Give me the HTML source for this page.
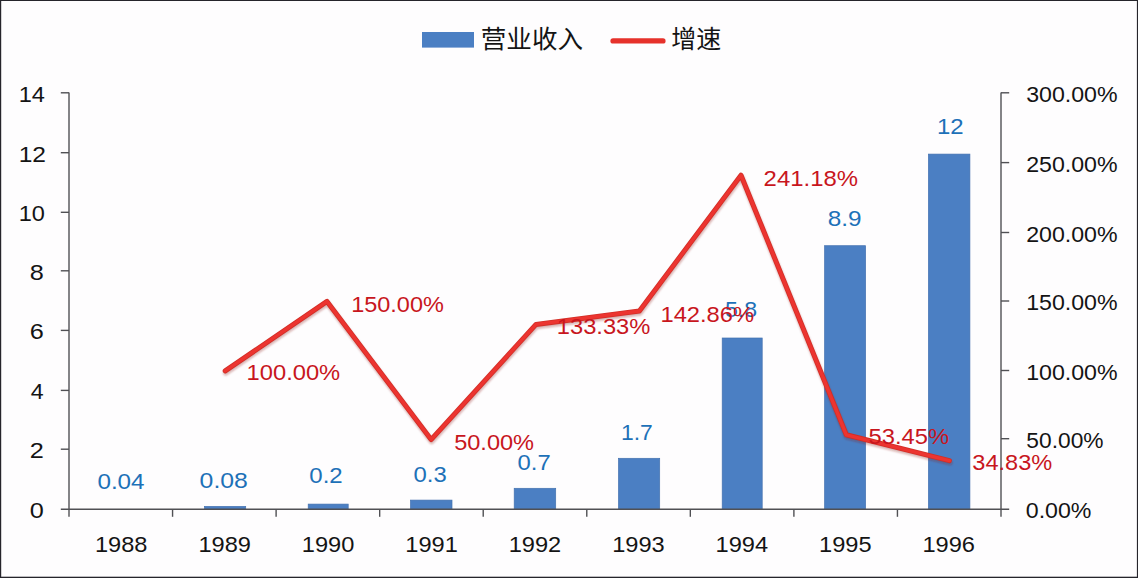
<!DOCTYPE html>
<html lang="zh">
<head>
<meta charset="utf-8">
<title>营业收入与增速</title>
<style>
html,body{margin:0;padding:0;background:#fefdfe;}
body{width:1138px;height:578px;overflow:hidden;}
svg{display:block;}
text{font-family:'Liberation Sans', 'Noto Sans CJK SC', sans-serif;font-size:22.6px;}
.cjk{font-family:'Liberation Sans', 'Noto Sans CJK SC', sans-serif;font-size:25px;}
</style>
</head>
<body>
<svg width="1138" height="578" viewBox="0 0 1138 578">
<defs>
<filter id="sh" x="-5%" y="-5%" width="110%" height="115%"><feGaussianBlur stdDeviation="1.2"/></filter>
</defs>
<rect x="0" y="0" width="1138" height="578" fill="#fefdfe"/>

<g fill="#4b7fc3" stroke="#4472b0" stroke-width="0.7">
<rect x="204.5" y="506.4" width="41.2" height="2.8"/>
<rect x="308.2" y="504.1" width="40.0" height="5.1"/>
<rect x="410.5" y="500.1" width="41.5" height="9.1"/>
<rect x="514.2" y="488.3" width="41.5" height="20.9"/>
<rect x="618.5" y="458.3" width="41.2" height="50.9"/>
<rect x="722.2" y="338.0" width="40.0" height="171.2"/>
<rect x="824.6" y="245.7" width="41.0" height="263.5"/>
<rect x="928.4" y="154.1" width="41.5" height="355.1"/>
</g>
<g stroke="#505054" stroke-width="1.4" fill="none">
<path d="M69.0 92.5 V516.8"/>
<path d="M1001.0 92.5 V516.8"/>
<path d="M60.8 509.3 H1009.2"/>
<path d="M60.8 449.20 H69.0"/>
<path d="M60.8 390.40 H69.0"/>
<path d="M60.8 330.40 H69.0"/>
<path d="M60.8 270.80 H69.0"/>
<path d="M60.8 212.30 H69.0"/>
<path d="M60.8 152.70 H69.0"/>
<path d="M60.8 92.80 H69.0"/>
<path d="M1001.0 438.70 H1009.2"/>
<path d="M1001.0 370.50 H1009.2"/>
<path d="M1001.0 301.00 H1009.2"/>
<path d="M1001.0 232.50 H1009.2"/>
<path d="M1001.0 162.60 H1009.2"/>
<path d="M1001.0 92.80 H1009.2"/>
<path d="M172.56 509.4 V516.8"/>
<path d="M276.11 509.4 V516.8"/>
<path d="M379.67 509.4 V516.8"/>
<path d="M483.22 509.4 V516.8"/>
<path d="M586.78 509.4 V516.8"/>
<path d="M690.33 509.4 V516.8"/>
<path d="M793.89 509.4 V516.8"/>
<path d="M897.44 509.4 V516.8"/>
</g>
<g>
<text x="97.43" y="489.40" textLength="47.16" lengthAdjust="spacingAndGlyphs" fill="#1d71b8">0.04</text>
<text x="199.60" y="487.90" textLength="48.28" lengthAdjust="spacingAndGlyphs" fill="#1d71b8">0.08</text>
<text x="309.34" y="483.40" textLength="33.41" lengthAdjust="spacingAndGlyphs" fill="#1d71b8">0.2</text>
<text x="413.54" y="481.70" textLength="33.20" lengthAdjust="spacingAndGlyphs" fill="#1d71b8">0.3</text>
<text x="517.55" y="469.80" textLength="33.10" lengthAdjust="spacingAndGlyphs" fill="#1d71b8">0.7</text>
<text x="620.99" y="439.90" textLength="31.84" lengthAdjust="spacingAndGlyphs" fill="#1d71b8">1.7</text>
<text x="724.97" y="317.40" textLength="32.26" lengthAdjust="spacingAndGlyphs" fill="#1d71b8">5.8</text>
<text x="827.82" y="225.80" textLength="33.83" lengthAdjust="spacingAndGlyphs" fill="#1d71b8">8.9</text>
<text x="936.94" y="133.70" textLength="26.67" lengthAdjust="spacingAndGlyphs" fill="#1d71b8">12</text>
</g>
<g>
<text x="29.68" y="518.20" textLength="14.06" lengthAdjust="spacingAndGlyphs" fill="#141414">0</text>
<text x="29.68" y="458.10" textLength="14.06" lengthAdjust="spacingAndGlyphs" fill="#141414">2</text>
<text x="30.80" y="399.30" textLength="12.89" lengthAdjust="spacingAndGlyphs" fill="#141414">4</text>
<text x="29.68" y="339.30" textLength="14.06" lengthAdjust="spacingAndGlyphs" fill="#141414">6</text>
<text x="29.68" y="279.70" textLength="14.06" lengthAdjust="spacingAndGlyphs" fill="#141414">8</text>
<text x="18.76" y="221.20" textLength="26.19" lengthAdjust="spacingAndGlyphs" fill="#141414">10</text>
<text x="18.71" y="161.60" textLength="27.33" lengthAdjust="spacingAndGlyphs" fill="#141414">12</text>
<text x="18.76" y="101.70" textLength="26.19" lengthAdjust="spacingAndGlyphs" fill="#141414">14</text>
<text x="1026.17" y="379.80" textLength="91.43" lengthAdjust="spacingAndGlyphs" fill="#141414">100.00%</text>
<text x="1026.17" y="310.30" textLength="91.43" lengthAdjust="spacingAndGlyphs" fill="#141414">150.00%</text>
<text x="1026.17" y="241.80" textLength="91.43" lengthAdjust="spacingAndGlyphs" fill="#141414">200.00%</text>
<text x="1026.17" y="171.90" textLength="91.43" lengthAdjust="spacingAndGlyphs" fill="#141414">250.00%</text>
<text x="1026.17" y="102.10" textLength="91.43" lengthAdjust="spacingAndGlyphs" fill="#141414">300.00%</text>
<text x="1026.39" y="448.00" textLength="77.15" lengthAdjust="spacingAndGlyphs" fill="#141414">50.00%</text>
<text x="1025.77" y="517.90" textLength="65.71" lengthAdjust="spacingAndGlyphs" fill="#141414">0.00%</text>
<text x="94.96" y="552.00" textLength="52.52" lengthAdjust="spacingAndGlyphs" fill="#141414">1988</text>
<text x="198.40" y="552.00" textLength="52.52" lengthAdjust="spacingAndGlyphs" fill="#141414">1989</text>
<text x="301.84" y="552.00" textLength="52.52" lengthAdjust="spacingAndGlyphs" fill="#141414">1990</text>
<text x="405.28" y="552.00" textLength="52.52" lengthAdjust="spacingAndGlyphs" fill="#141414">1991</text>
<text x="508.72" y="552.00" textLength="52.52" lengthAdjust="spacingAndGlyphs" fill="#141414">1992</text>
<text x="612.16" y="552.00" textLength="52.52" lengthAdjust="spacingAndGlyphs" fill="#141414">1993</text>
<text x="715.60" y="552.00" textLength="52.52" lengthAdjust="spacingAndGlyphs" fill="#141414">1994</text>
<text x="819.04" y="552.00" textLength="52.52" lengthAdjust="spacingAndGlyphs" fill="#141414">1995</text>
<text x="922.48" y="552.00" textLength="52.52" lengthAdjust="spacingAndGlyphs" fill="#141414">1996</text>
</g>
<path d="M225.2 370.9 L327.0 301.4 L431.1 439.6 L536.0 324.4 L639.4 311.0 L741.0 175.2 L846.3 434.8 L949.4 460.6" transform="translate(0.5,2)" fill="none" stroke="#8a1a14" stroke-opacity="0.35" stroke-width="5" stroke-linecap="round" stroke-linejoin="round" filter="url(#sh)"/>
<path d="M225.2 370.9 L327.0 301.4 L431.1 439.6 L536.0 324.4 L639.4 311.0 L741.0 175.2 L846.3 434.8 L949.4 460.6" fill="none" stroke="#d22e26" stroke-width="5" stroke-linecap="round" stroke-linejoin="round"/>
<path d="M225.2 370.9 L327.0 301.4 L431.1 439.6 L536.0 324.4 L639.4 311.0 L741.0 175.2 L846.3 434.8 L949.4 460.6" fill="none" stroke="#ec3430" stroke-width="3.4" stroke-linecap="round" stroke-linejoin="round"/>
<g>
<text x="246.55" y="380.10" textLength="93.66" lengthAdjust="spacingAndGlyphs" fill="#c8161d">100.00%</text>
<text x="351.16" y="312.00" textLength="92.65" lengthAdjust="spacingAndGlyphs" fill="#c8161d">150.00%</text>
<text x="454.16" y="449.60" textLength="79.91" lengthAdjust="spacingAndGlyphs" fill="#c8161d">50.00%</text>
<text x="556.75" y="334.00" textLength="93.66" lengthAdjust="spacingAndGlyphs" fill="#c8161d">133.33%</text>
<text x="660.45" y="322.00" textLength="93.66" lengthAdjust="spacingAndGlyphs" fill="#c8161d">142.86%</text>
<text x="763.64" y="186.00" textLength="94.37" lengthAdjust="spacingAndGlyphs" fill="#c8161d">241.18%</text>
<text x="868.55" y="444.30" textLength="80.63" lengthAdjust="spacingAndGlyphs" fill="#c8161d">53.45%</text>
<text x="972.36" y="470.10" textLength="79.91" lengthAdjust="spacingAndGlyphs" fill="#c8161d">34.83%</text>
</g>
<rect x="422" y="32" width="52" height="15.6" fill="#4b7fc3"/>
<path d="M613 40.9 H663" stroke="#e6322b" stroke-width="5.2" stroke-linecap="round" fill="none"/>
<text class="cjk" x="480.78" y="47.90" textLength="102.26" lengthAdjust="spacingAndGlyphs" fill="#141414">营业收入</text>
<text class="cjk" x="671.20" y="47.90" textLength="50.02" lengthAdjust="spacingAndGlyphs" fill="#141414">增速</text>
<path d="M0.6 0 V578 M1137.5 0 V578 M0 0.5 H1138" stroke="#26252b" stroke-width="1.2" fill="none"/>
<rect x="0" y="576.7" width="1138" height="1.3" fill="#26252b"/>
</svg>
</body>
</html>
